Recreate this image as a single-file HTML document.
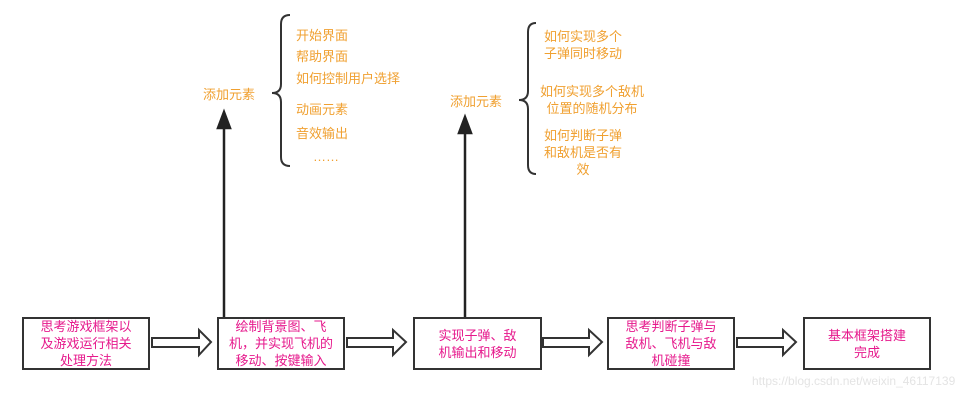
<!DOCTYPE html>
<html><head><meta charset="utf-8"><style>
body{margin:0;width:963px;height:404px;background:#fff;position:relative;overflow:hidden;font-family:"Liberation Sans","Noto Sans CJK SC",sans-serif}
.b{position:absolute;top:317px;height:49px;border:2px solid #333;box-sizing:content-box;display:flex;align-items:center;justify-content:center;text-align:center;color:#e6198c;font-size:13px;line-height:17px}
.o{position:absolute;color:#f0a030;font-size:13px;line-height:17px;white-space:nowrap}
</style></head><body>
<div class="b" style="left:22px;width:124px">思考游戏框架以<br>及游戏运行相关<br>处理方法</div>
<div class="b" style="left:217px;width:124px">绘制背景图、飞<br>机，并实现飞机的<br>移动、按键输入</div>
<div class="b" style="left:413px;width:125px">实现子弹、敌<br>机输出和移动</div>
<div class="b" style="left:607px;width:124px">思考判断子弹与<br>敌机、飞机与敌<br>机碰撞</div>
<div class="b" style="left:803px;width:124px">基本框架搭建<br>完成</div>
<svg width="963" height="404" style="position:absolute;left:0;top:0">
<g fill="#fff" stroke="#333" stroke-width="2">
<polygon points="152,338 199,338 199,330 211,342 199,355 199,347 152,347"/>
<polygon points="347,338 393,338 393,330 406,342 393,355 393,347 347,347"/>
<polygon points="543,338 589,338 589,330 602,342 589,355 589,347 543,347"/>
<polygon points="737,338 783,338 783,330 796,342 783,355 783,347 737,347"/>
</g>
<g stroke="#222" stroke-width="2.5" fill="#222">
<line x1="224" y1="317" x2="224" y2="126"/><polygon points="218,128 230,128 224,112"/>
<line x1="465" y1="317" x2="465" y2="131"/><polygon points="459,133 471,133 465,117"/>
</g>
<g fill="none" stroke="#333" stroke-width="2">
<path d="M290,15 Q281,15 281,24 L281,84 Q281,93 272,93 Q281,93 281,102 L281,157 Q281,166 290,166"/>
<path d="M536,23 Q528,23 528,32 L528,91 Q528,100 519,100 Q528,100 528,109 L528,165 Q528,174 536,174"/>
</g>
</svg>
<div class="o" style="left:203px;top:86px">添加元素</div>
<div class="o" style="left:296px;top:27px">开始界面</div>
<div class="o" style="left:296px;top:48px">帮助界面</div>
<div class="o" style="left:296px;top:70px">如何控制用户选择</div>
<div class="o" style="left:296px;top:101px">动画元素</div>
<div class="o" style="left:296px;top:125px">音效输出</div>
<div class="o" style="left:313px;top:148px">……</div>
<div class="o" style="left:450px;top:93px">添加元素</div>
<div class="o" style="left:537px;top:28px;width:106px;text-align:center;left:530px">如何实现多个<br>子弹同时移动</div>
<div class="o" style="left:530px;top:83px;width:124px;text-align:center">如何实现多个敌机<br>位置的随机分布</div>
<div class="o" style="left:530px;top:127px;width:106px;text-align:center">如何判断子弹<br>和敌机是否有<br>效</div>
<div style="position:absolute;left:752px;top:374px;color:#e4e4e4;font-size:12px">https://blog.csdn.net/weixin_46117139</div>
</body></html>
